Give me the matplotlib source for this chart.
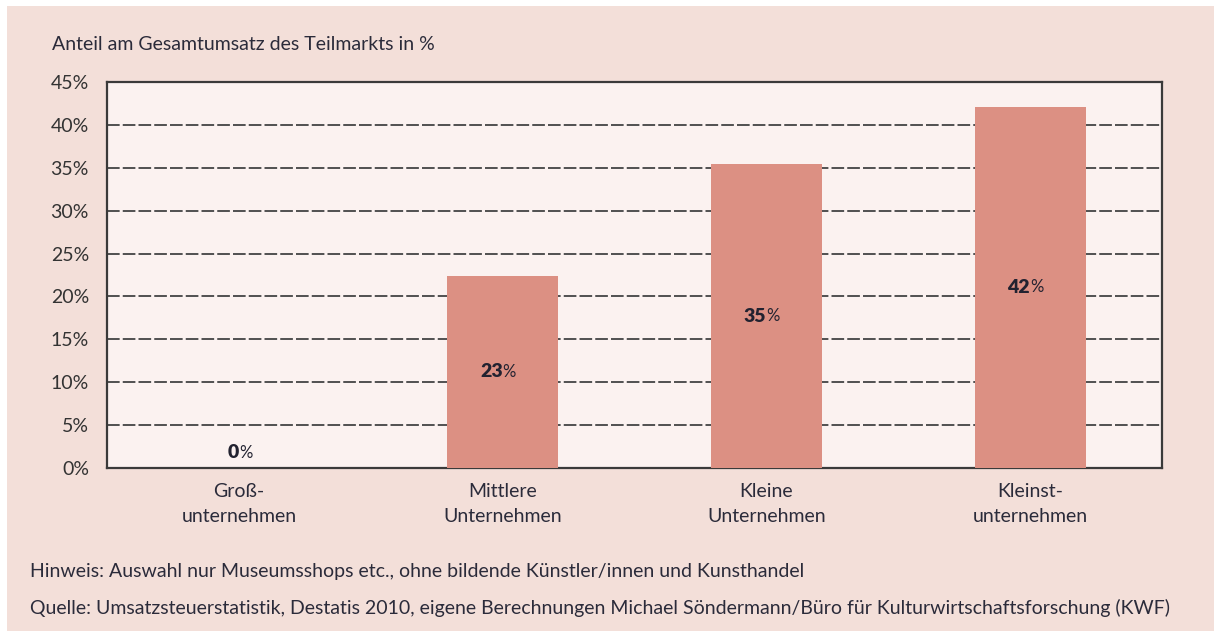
import matplotlib
matplotlib.use("Agg")
import matplotlib.pyplot as plt
from matplotlib.patches import Rectangle

categories = ["Groß-\nunternehmen", "Mittlere\nUnternehmen", "Kleine\nUnternehmen", "Kleinst-\nunternehmen"]
values = [0.0, 22.4, 35.4, 42.1]
value_labels = ["0", "23", "35", "42"]
yticks = [0, 5, 10, 15, 20, 25, 30, 35, 40, 45]
ytick_labels = [f"{t}%" for t in yticks]
title = "Anteil am Gesamtumsatz des Teilmarkts in %"
note1 = "Hinweis: Auswahl nur Museumsshops etc., ohne bildende Künstler/innen und Kunsthandel"
note2 = "Quelle: Umsatzsteuerstatistik, Destatis 2010, eigene Berechnungen Michael Söndermann/Büro für Kulturwirtschaftsforschung (KWF)"

plt.rcParams['font.family'] = ['Lato', 'DejaVu Sans']

W, H = 1214, 631
fig = plt.figure(figsize=(W / 100, H / 100), dpi=100)
fig.patch.set_facecolor("white")
fig.patches.append(Rectangle((7 / W, 0), 1 - 7 / W, 1 - 6 / H, transform=fig.transFigure,
                             facecolor="#f3dfd9", edgecolor="none", zorder=-10))

left, right, top, bottom = 107, 1162, 82, 468
ax = fig.add_axes([left / W, 1 - bottom / H, (right - left) / W, (bottom - top) / H])
ax.set_facecolor("#fbf2f0")

x = list(range(len(categories)))
ax.bar(x, values, width=0.42, color="#dc9083", zorder=3)
ax.set_xlim(-0.5, 3.5)
ax.set_ylim(0, 45)
ax.set_yticks(yticks)
ax.set_yticklabels(ytick_labels)
ax.set_xticks(x)
ax.set_xticklabels(categories, linespacing=1.55)
ax.tick_params(axis="both", length=0, labelsize=14, colors="#2b2b3a")
ax.tick_params(axis="y", pad=13)
ax.tick_params(axis="x", pad=11)
for t in ax.get_yticklabels():
    t.set_color("#333333")

for y in yticks[1:-1]:
    ax.axhline(y, color="#505050", lw=1.4, dashes=(6.5, 1.6), zorder=2)

for s in ax.spines.values():
    s.set_color("#3a3a3a")
    s.set_linewidth(1.6)

for xi, v, lab in zip(x, values, value_labels):
    ypos = v / 2 if v > 3 else 1.8
    ax.text(xi, ypos, lab, ha="right", va="center", fontsize=14, fontweight="heavy",
            color="#222230", zorder=4)
    ax.text(xi, ypos, "%", ha="left", va="center", fontsize=12, color="#222230", zorder=4)

fig.text(52 / W, 1 - 45 / H, title, fontsize=14, color="#2b2b3a", va="center", ha="left")
fig.text(30 / W, 1 - 572 / H, note1, fontsize=14, color="#2b2b3a", va="center", ha="left")
fig.text(30 / W, 1 - 608 / H, note2, fontsize=14, color="#2b2b3a", va="center", ha="left")

fig.savefig("out.png", dpi=100, facecolor=fig.get_facecolor())
